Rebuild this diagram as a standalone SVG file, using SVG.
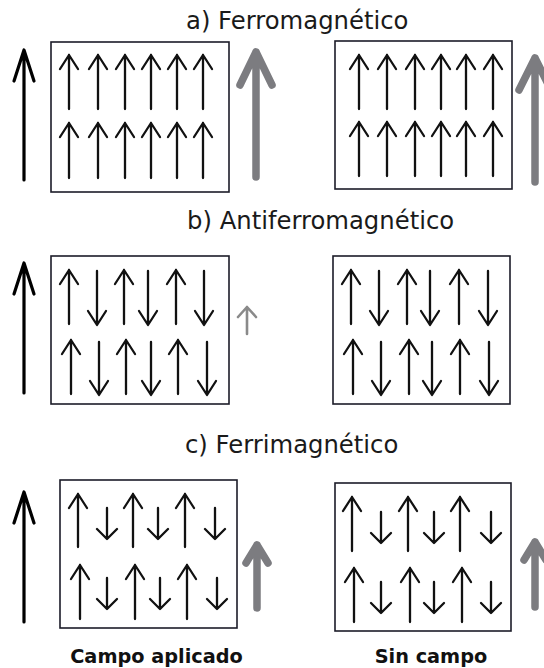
<svg xmlns="http://www.w3.org/2000/svg" width="544" height="668" viewBox="0 0 544 668">
<style>
.title{font-family:"DejaVu Sans",sans-serif;font-size:24.3px;fill:#1a1a1a}
.label{font-family:"DejaVu Sans",sans-serif;font-size:19.3px;font-weight:bold;fill:#111;text-anchor:middle}
.box{fill:#fff;stroke:#1c1c28;stroke-width:1.6}
.sp{fill:none;stroke:#111;stroke-width:2.3;stroke-linejoin:round;stroke-linecap:round}
.field{fill:none;stroke:#000;stroke-width:3.2;stroke-linejoin:round;stroke-linecap:round}
.mag{fill:none;stroke:#7c7c80;stroke-width:7.5;stroke-linejoin:round;stroke-linecap:round}
.magsm{fill:none;stroke:#8a8a8a;stroke-width:2.6;stroke-linejoin:round;stroke-linecap:round}
</style>
<rect width="544" height="668" fill="#fff"/>

<text class="title" x="186" y="29">a) Ferromagnético</text>
<text class="title" x="187" y="229">b) Antiferromagnético</text>
<text class="title" x="185" y="453">c) Ferrimagnético</text>

<g id="a-campo">
<path class="field" d="M24 180V50M14 81L24 50L34 81"/>
<rect class="box" x="51" y="42" width="178" height="150"/>
<path class="sp" d="M69 109V55M60 69L69 55L78 69M98 109V55M89 69L98 55L107 69M125 109V55M116 69L125 55L134 69M151 109V55M142 69L151 55L160 69M177 109V55M168 69L177 55L186 69M203 109V55M194 69L203 55L212 69"/>
<path class="sp" d="M69 178V123M60 137L69 123L78 137M98 178V123M89 137L98 123L107 137M125 178V123M116 137L125 123L134 137M151 178V123M142 137L151 123L160 137M177 178V123M168 137L177 123L186 137M203 178V123M194 137L203 123L212 137"/>
<path class="mag" d="M256 177V52M240 85L256 52L272 85"/>
</g>

<g id="a-sin">
<rect class="box" x="335" y="41" width="177" height="148"/>
<path class="sp" d="M359 109V55M350 69L359 55L368 69M387 109V55M378 69L387 55L396 69M415 109V55M406 69L415 55L424 69M441 109V55M432 69L441 55L450 69M466 109V55M457 69L466 55L475 69M493 109V55M484 69L493 55L502 69"/>
<path class="sp" d="M359 176V122M350 136L359 122L368 136M387 176V122M378 136L387 122L396 136M415 176V122M406 136L415 122L424 136M441 176V122M432 136L441 122L450 136M466 176V122M457 136L466 122L475 136M493 176V122M484 136L493 122L502 136"/>
<path class="mag" d="M535 182V58M519 90L535 58L551 90"/>
</g>

<g id="b-campo">
<path class="field" d="M24 393V263M14 294L24 263L34 294"/>
<rect class="box" x="51" y="256" width="178" height="148"/>
<path class="sp" d="M69 324V270M60 284L69 270L78 284M124 324V270M115 284L124 270L133 284M176 324V270M167 284L176 270L185 284"/>
<path class="sp" d="M97 271V325M88 311L97 325L106 311M148 271V325M139 311L148 325L157 311M204 271V325M195 311L204 325L213 311"/>
<path class="sp" d="M71 394V340M62 354L71 340L80 354M126 394V340M117 354L126 340L135 354M178 394V340M169 354L178 340L187 354"/>
<path class="sp" d="M99 342V395M90 381L99 395L108 381M151 342V395M142 381L151 395L160 381M207 342V395M198 381L207 395L216 381"/>
<path class="magsm" d="M247 334V307M238 317L247 307L256 317"/>
</g>

<g id="b-sin">
<rect class="box" x="333" y="256" width="177" height="148"/>
<path class="sp" d="M351 324V270M342 284L351 270L360 284M407 324V270M398 284L407 270L416 284M459 324V270M450 284L459 270L468 284"/>
<path class="sp" d="M379 271V325M370 311L379 325L388 311M430 271V325M421 311L430 325L439 311M488 271V325M479 311L488 325L497 311"/>
<path class="sp" d="M353 394V340M344 354L353 340L362 354M409 394V340M400 354L409 340L418 354M460 394V340M451 354L460 340L469 354"/>
<path class="sp" d="M381 342V395M372 381L381 395L390 381M432 342V395M423 381L432 395L441 381M489 342V395M480 381L489 395L498 381"/>
</g>

<g id="c-campo">
<path class="field" d="M24 622V492M14 523L24 492L34 523"/>
<rect class="box" x="60" y="480" width="177" height="148"/>
<path class="sp" d="M78 547V494M69 508L78 494L87 508M133 547V494M124 508L133 494L142 508M185 547V494M176 508L185 494L194 508"/>
<path class="sp" d="M107 508V539M97 529L107 539L117 529M158 508V539M148 529L158 539L168 529M215 508V539M205 529L215 539L225 529"/>
<path class="sp" d="M80 619V565M71 579L80 565L89 579M135 619V565M126 579L135 565L144 579M187 619V565M178 579L187 565L196 579"/>
<path class="sp" d="M107 578V609M97 599L107 609L117 599M160 578V609M150 599L160 609L170 599M217 578V609M207 599L217 609L227 599"/>
<path class="mag" d="M257 608V545M246 563L257 545L268 563"/>
<text class="label" x="156.5" y="663">Campo aplicado</text>
</g>

<g id="c-sin">
<rect class="box" x="335" y="483" width="176" height="148"/>
<path class="sp" d="M352 551V497M343 511L352 497L361 511M408 551V497M399 511L408 497L417 511M460 551V497M451 511L460 497L469 511"/>
<path class="sp" d="M381 512V543M371 533L381 543L391 533M434 512V543M424 533L434 543L444 533M491 512V543M481 533L491 543L501 533"/>
<path class="sp" d="M354 622V568M345 582L354 568L363 582M410 622V568M401 582L410 568L419 582M462 622V568M453 582L462 568L471 582"/>
<path class="sp" d="M381 582V613M371 603L381 613L391 603M434 582V613M424 603L434 613L444 603M491 582V613M481 603L491 613L501 603"/>
<path class="mag" d="M535 607V542M524 560L535 542L546 560"/>
<text class="label" x="431" y="663">Sin campo</text>
</g>

<g id="connectors"/>
</svg>
